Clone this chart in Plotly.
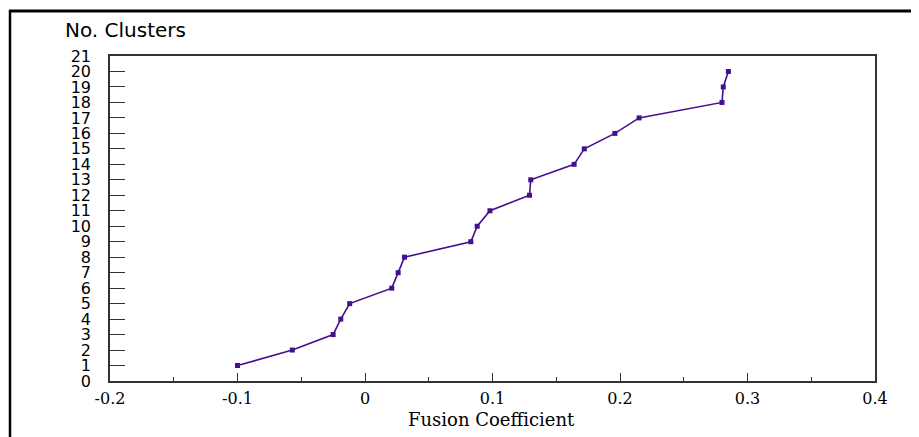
import plotly.graph_objects as go

# Data
clusters = [1, 2, 3, 4, 5, 6, 7, 8, 9, 10, 11, 12, 13, 14, 15, 16, 17, 18, 19, 20]
fusion_coef = [-0.100, -0.057, -0.025, -0.019, -0.012, 0.021, 0.026, 0.031,
               0.083, 0.088, 0.098, 0.129, 0.130, 0.164, 0.172, 0.196,
               0.215, 0.280, 0.281, 0.285]
x_ticks = [-0.2, -0.1, 0, 0.1, 0.2, 0.3, 0.4]
x_tick_labels = ["-0.2", "-0.1", "0", "0.1", "0.2", "0.3", "0.4"]
y_ticks = list(range(0, 22))

OFF = 8  # page body margin
W, H = 919, 437
# target plot area in window pixels
PL, PR, PT, PB = 110, 875, 56, 381
L, T = PL - OFF, PT - OFF
pw, ph = PR - PL, PB - PT
R = W - L - pw
B = H - T - ph

def px_x(p):
    return (p - PL) / pw

def px_y(p):
    return (PB - p) / ph

line_color = "#45108f"

fig = go.Figure()
fig.add_trace(go.Scatter(
    x=fusion_coef, y=clusters, mode="lines+markers",
    line=dict(color=line_color, width=1.6),
    marker=dict(symbol="square", size=5, color=line_color),
    showlegend=False, hoverinfo="x+y",
))

axis_line = "#333333"
fig.update_layout(
    width=W, height=H,
    margin=dict(l=L, r=R, t=T, b=B, pad=0),
    paper_bgcolor="white", plot_bgcolor="white",
    xaxis=dict(
        range=[-0.2, 0.4], tickmode="array", tickvals=x_ticks, ticktext=x_tick_labels,
        ticks="inside", ticklen=8, tickwidth=1, tickcolor=axis_line,
        minor=dict(dtick=0.05, tick0=0, ticks="inside", ticklen=4, tickwidth=1, tickcolor=axis_line),
        showgrid=False, zeroline=False,
        showline=True, linecolor=axis_line, linewidth=1.5, mirror=True,
        tickfont=dict(family="DejaVu Serif", size=16, color="black"),
        ticklabelstandoff=2,
    ),
    yaxis=dict(
        range=[0, 21], tickmode="array", tickvals=y_ticks,
        ticktext=[str(v) for v in y_ticks],
        ticks="inside", ticklen=15, tickwidth=1, tickcolor=axis_line,
        showgrid=False, zeroline=False,
        showline=True, linecolor=axis_line, linewidth=1.5, mirror=True,
        tickfont=dict(family="DejaVu Sans", size=16, color="black"),
        ticklabelstandoff=14,
    ),
    annotations=[
        dict(text="No. Clusters", xref="paper", yref="paper",
             x=px_x(63), y=px_y(30), xanchor="left", yanchor="middle",
             showarrow=False, font=dict(family="DejaVu Sans", size=20, color="black")),
        dict(text="Fusion Coefficient", xref="paper", yref="paper",
             x=px_x(491), y=px_y(419), xanchor="center", yanchor="middle",
             showarrow=False, font=dict(family="DejaVu Serif", size=18, color="black")),
    ],
    shapes=[
        dict(type="line", xref="paper", yref="paper",
             x0=px_x(9), x1=px_x(930), y0=px_y(11), y1=px_y(11),
             line=dict(color="black", width=3)),
        dict(type="line", xref="paper", yref="paper",
             x0=px_x(10), x1=px_x(10), y0=px_y(10), y1=px_y(450),
             line=dict(color="black", width=2.5)),
    ],
)

fig.write_html("out.html")
